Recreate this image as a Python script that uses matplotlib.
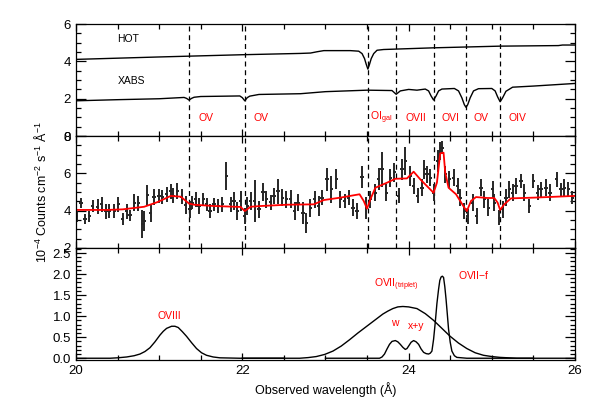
import matplotlib
matplotlib.use("Agg")
from matplotlib import pyplot as plt
from matplotlib.ticker import MultipleLocator, FormatStrFormatter

plt.rcParams['font.family'] = ['Liberation Sans', 'DejaVu Sans']
plt.rcParams['mathtext.fontset'] = 'custom'
plt.rcParams['mathtext.rm'] = 'Liberation Sans'

# верхняя панель: модели поглощения HOT и XABS
hot_x = [20.0, 21.0, 22.0, 22.7, 22.82, 22.9, 22.98, 23.3, 23.4, 23.44, 23.47, 23.49,
         23.51, 23.53, 23.55, 23.58, 23.62, 23.7, 24.3, 25.1, 25.8, 25.85, 26.0]
hot_y = [4.11, 4.24, 4.36, 4.43, 4.45, 4.52, 4.58, 4.58, 4.55, 4.42, 4.15, 3.85,
         3.59, 3.85, 4.15, 4.42, 4.6, 4.64, 4.73, 4.82, 4.85, 4.88, 4.88]

xabs_x = [20.0, 20.5, 21.0, 21.3, 21.33, 21.36, 21.39, 21.42, 21.5, 21.97, 22.0, 22.03,
          22.06, 22.09, 22.2, 22.7, 23.0, 23.5, 23.8, 23.85, 23.9, 24.0, 24.1, 24.2,
          24.24, 24.27, 24.3, 24.33, 24.36, 24.4, 24.55, 24.6, 24.64, 24.67, 24.69,
          24.71, 24.74, 24.78, 24.84, 25.0, 25.04, 25.07, 25.1, 25.13, 25.17, 25.25,
          25.5, 26.0]
xabs_y = [1.89, 1.95, 2.0, 2.07, 2.02, 1.93, 2.02, 2.08, 2.12, 2.15, 2.06, 1.89,
          2.06, 2.14, 2.23, 2.27, 2.38, 2.46, 2.44, 2.24, 2.42, 2.5, 2.46, 2.52,
          2.42, 2.15, 1.93, 2.15, 2.42, 2.52, 2.55, 2.42, 2.05, 1.68, 1.54,
          1.68, 2.05, 2.42, 2.54, 2.55, 2.42, 2.1, 1.84, 2.05, 2.4, 2.62,
          2.68, 2.82]

# положения линий поглощения и подписи
abs_lines = [21.36, 22.03, 23.51, 23.85, 24.30, 24.69, 25.10]
abs_labels = ['OV', 'OV', r'OI$_{\rm gal}$', 'OVII', 'OVI', 'OV', 'OIV']
abs_label_x = [21.47, 22.14, 23.54, 23.96, 24.40, 24.78, 25.20]

# средняя панель: данные с ошибками
wl = [20.01, 20.06, 20.11, 20.16, 20.20, 20.26, 20.31, 20.36, 20.40, 20.46,
      20.51, 20.56, 20.61, 20.65, 20.70, 20.75, 20.80, 20.82, 20.86, 20.90,
      20.94, 21.00, 21.04, 21.09, 21.14, 21.17, 21.22, 21.27, 21.32, 21.37,
      21.40, 21.44, 21.48, 21.53, 21.57, 21.61, 21.66, 21.71, 21.76, 21.81,
      21.86, 21.90, 21.94, 21.98, 22.03, 22.06, 22.10, 22.15, 22.20, 22.25,
      22.29, 22.34, 22.38, 22.43, 22.48, 22.53, 22.58, 22.63, 22.67, 22.73,
      22.77, 22.82, 22.87, 22.92, 22.96, 23.02, 23.07, 23.13, 23.18, 23.23,
      23.28, 23.33, 23.38, 23.44, 23.49, 23.54, 23.60, 23.64, 23.68, 23.73,
      23.78, 23.83, 23.88, 23.92, 23.96, 24.02, 24.06, 24.11, 24.16, 24.19,
      24.22, 24.26, 24.30, 24.35, 24.38, 24.40, 24.44, 24.49, 24.54, 24.59,
      24.62, 24.67, 24.71, 24.77, 24.82, 24.87, 24.91, 24.96, 25.01, 25.03,
      25.09, 25.13, 25.17, 25.21, 25.25, 25.29, 25.35, 25.39, 25.45, 25.50,
      25.55, 25.59, 25.65, 25.70, 25.78, 25.83, 25.87, 25.92, 25.97]
flux = [3.71, 4.43, 3.54, 3.71, 4.25, 4.20, 4.34, 3.98, 3.98, 3.98,
        4.34, 3.54, 3.98, 3.75, 4.43, 4.39, 3.27, 3.45, 4.82, 3.86,
        4.73, 4.79, 4.73, 4.88, 5.05, 4.79, 5.05, 4.75, 4.29, 4.07,
        4.43, 4.61, 4.25, 4.61, 4.34, 3.98, 4.34, 4.25, 4.34, 5.86,
        4.34, 4.52, 3.98, 4.52, 3.71, 4.25, 4.52, 4.52, 4.07, 5.00,
        4.61, 4.46, 4.79, 5.05, 4.70, 4.61, 4.61, 3.98, 4.43, 3.89,
        3.36, 4.16, 4.61, 4.25, 4.70, 5.68, 5.14, 5.68, 4.61, 4.52,
        4.70, 4.16, 3.98, 5.82, 4.16, 4.61, 4.96, 5.71, 6.21, 4.96,
        5.77, 6.05, 4.79, 6.21, 6.66, 5.86, 5.32, 4.79, 5.23, 6.21,
        5.95, 5.77, 4.96, 6.66, 7.20, 7.38, 5.95, 5.68, 5.77, 5.32,
        4.70, 3.98, 3.71, 4.43, 3.71, 5.23, 4.61, 4.16, 5.14, 4.43,
        3.63, 4.07, 4.70, 5.14, 4.96, 5.32, 5.59, 4.96, 4.25, 5.59,
        4.96, 5.14, 5.23, 4.96, 5.68, 5.14, 5.23, 5.14, 4.70]
flux_err = [0.29, 0.27, 0.27, 0.29, 0.31, 0.40, 0.40, 0.40, 0.36, 0.36,
            0.40, 0.31, 0.40, 0.31, 0.45, 0.40, 0.76, 0.54, 0.58, 0.49,
            0.45, 0.36, 0.36, 0.40, 0.40, 0.40, 0.45, 0.40, 0.49, 0.45,
            0.36, 0.40, 0.45, 0.36, 0.36, 0.36, 0.36, 0.36, 0.40, 0.73,
            0.40, 0.49, 0.49, 0.54, 0.45, 0.49, 0.49, 1.15, 0.45, 0.49,
            0.45, 0.40, 0.45, 0.67, 0.45, 0.45, 0.49, 0.49, 0.45, 0.58,
            0.54, 0.49, 0.45, 0.54, 0.40, 0.63, 0.71, 0.54, 0.45, 0.40,
            0.40, 0.45, 0.45, 0.58, 0.58, 0.45, 0.45, 0.58, 0.94, 0.45,
            0.49, 0.50, 0.40, 0.54, 0.76, 0.54, 0.45, 0.40, 0.45, 0.49,
            0.45, 0.45, 0.45, 0.58, 0.49, 0.36, 0.45, 0.45, 0.45, 0.45,
            0.45, 0.45, 0.40, 0.45, 0.45, 0.45, 0.45, 0.45, 0.45, 0.45,
            0.40, 0.45, 0.45, 0.45, 0.45, 0.45, 0.40, 0.45, 0.36, 0.36,
            0.40, 0.40, 0.45, 0.45, 0.40, 0.36, 0.45, 0.40, 0.36]

# модель (красная линия)
model_x = [19.98, 20.38, 20.56, 20.82, 20.98, 21.14, 21.26, 21.36, 21.42, 21.66,
           21.98, 22.03, 22.10, 22.22, 22.54, 22.86, 22.98, 23.18, 23.41, 23.46,
           23.50, 23.54, 23.60, 23.74, 23.84, 23.98, 24.06, 24.14, 24.24, 24.30,
           24.34, 24.38, 24.42, 24.44, 24.48, 24.57, 24.67, 24.70, 24.75, 24.81,
           24.95, 25.03, 25.07, 25.10, 25.15, 25.23, 25.51, 25.99]
model_y = [4.04, 4.04, 4.07, 4.21, 4.46, 4.79, 4.75, 4.38, 4.32, 4.25,
           4.20, 3.98, 4.21, 4.25, 4.32, 4.34, 4.57, 4.70, 4.88, 4.52,
           4.11, 4.61, 5.23, 5.50, 5.71, 5.73, 6.09, 5.68, 5.23, 4.96,
           5.50, 7.07, 7.11, 6.04, 5.23, 4.88, 4.16, 3.98, 4.52, 4.73,
           4.68, 4.68, 4.43, 4.04, 4.34, 4.66, 4.70, 4.79]

# нижняя панель: эмиссионные компоненты
o8_x = [20.0, 20.41, 20.5, 20.61, 20.7, 20.77, 20.83, 20.89, 20.95, 21.01, 21.05,
        21.09, 21.15, 21.19, 21.23, 21.28, 21.33, 21.39, 21.45, 21.51, 21.57,
        21.65, 21.73, 21.97, 22.5]
o8_y = [0.0, 0.0, 0.01, 0.03, 0.06, 0.10, 0.16, 0.25, 0.39, 0.55, 0.64,
        0.71, 0.76, 0.76, 0.73, 0.63, 0.52, 0.37, 0.23, 0.13, 0.07,
        0.03, 0.01, 0.0, 0.0]

o7_broad_x = [22.0, 22.69, 22.79, 22.89, 22.99, 23.09, 23.19, 23.29, 23.39, 23.49,
              23.59, 23.69, 23.75, 23.81, 23.87, 23.93, 24.0, 24.10, 24.2, 24.30,
              24.4, 24.50, 24.6, 24.70, 24.8, 24.90, 25.0, 25.10, 25.30, 26.0]
o7_broad_y = [0.0, 0.0, 0.015, 0.04, 0.09, 0.17, 0.29, 0.44, 0.6, 0.75,
              0.9, 1.05, 1.12, 1.18, 1.22, 1.23, 1.22, 1.18, 1.06, 0.90,
              0.71, 0.52, 0.36, 0.23, 0.13, 0.07, 0.04, 0.02, 0.0, 0.0]

o7_narrow_x = [23.0, 23.65, 23.68, 23.71, 23.74, 23.77, 23.80, 23.84, 23.87, 23.90,
               23.93, 23.96, 23.98, 24.00, 24.03, 24.06, 24.09, 24.12, 24.15, 24.18,
               24.21, 24.24, 24.26, 24.28, 24.30, 24.32, 24.34, 24.36, 24.375, 24.39,
               24.405, 24.42, 24.435, 24.45, 24.465, 24.48, 24.50, 24.52, 24.55,
               24.58, 24.70, 25.5]
o7_narrow_y = [0.0, 0.0, 0.03, 0.10, 0.22, 0.33, 0.40, 0.42, 0.39, 0.33,
               0.26, 0.21, 0.23, 0.29, 0.38, 0.42, 0.39, 0.33, 0.22, 0.14,
               0.11, 0.10, 0.12, 0.17, 0.45, 0.85, 1.30, 1.64, 1.85, 1.93,
               1.95, 1.92, 1.70, 1.40, 1.05, 0.69, 0.38, 0.17, 0.06,
               0.02, 0.0, 0.0]

fig = plt.figure(figsize=(5.98, 4.09), dpi=100)
axs = fig.subplots(3, 1, sharex=True)
fig.subplots_adjust(left=0.127, right=0.9615, top=0.941, bottom=0.120, hspace=0)

for i, ax in enumerate(axs):
    if i < 2:  # в нижней панели пунктира нет
        for v in abs_lines:
            ax.axvline(v, color='k', ls=(0, (4, 3)), lw=0.9)
    ax.tick_params(which='both', direction='in', top=True, right=True, labelsize=9.5)
    ax.tick_params(which='major', length=7, width=0.9)
    ax.tick_params(which='minor', length=3.5, width=0.9)
    ax.tick_params(axis='x', which='major', length=5)
    ax.xaxis.set_major_locator(MultipleLocator(2))
    ax.xaxis.set_minor_locator(MultipleLocator(0.5))
    for s in ax.spines.values():
        s.set_linewidth(0.9)

# верхняя панель
ax = axs[0]
ax.plot(hot_x, hot_y, color='k', lw=1.0)
ax.plot(xabs_x, xabs_y, color='k', lw=1.0)
ax.set_ylim(0, 6)
ax.yaxis.set_major_locator(MultipleLocator(2))
ax.yaxis.set_minor_locator(MultipleLocator(0.5))
ax.text(20.5, 5.2, 'HOT', fontsize=7.5, va='center')
ax.text(20.5, 2.95, 'XABS', fontsize=7.5, va='center')
for lx, lab in zip(abs_label_x, abs_labels):
    ax.text(lx, 0.98, lab, color='red', fontsize=7.5, va='center')

# средняя панель
ax = axs[1]
ax.errorbar(wl, flux, yerr=flux_err, xerr=0.02, fmt='none',
            ecolor='#262626', elinewidth=1.4, capsize=0)
ax.plot(model_x, model_y, color='red', lw=1.3)
ax.set_ylim(2, 8)
ax.yaxis.set_major_locator(MultipleLocator(2))
ax.yaxis.set_minor_locator(MultipleLocator(0.5))

# нижняя панель
ax = axs[2]
ax.plot(o8_x, o8_y, color='k', lw=1.0)
ax.plot(o7_broad_x, o7_broad_y, color='k', lw=1.0)
ax.plot(o7_narrow_x, o7_narrow_y, color='k', lw=1.0)
ax.set_ylim(-0.04, 2.62)
ax.yaxis.set_major_locator(MultipleLocator(0.5))
ax.yaxis.set_minor_locator(MultipleLocator(0.1))
ax.yaxis.set_major_formatter(FormatStrFormatter('%.1f'))
ax.text(21.12, 1.0, 'OVIII', color='red', fontsize=7.5, ha='center', va='center')
ax.text(23.58, 1.75, r'OVII$_{\rm (triplet)}$', color='red', fontsize=7.5, va='center')
ax.text(24.59, 1.98, 'OVII$-$f', color='red', fontsize=7.5, va='center')
ax.text(23.83, 0.83, 'w', color='red', fontsize=7.5, ha='center', va='center')
ax.text(23.99, 0.77, 'x+y', color='red', fontsize=7.5, va='center')
ax.set_xlim(20, 26)
ax.set_xlabel('Observed wavelength (Å)', fontsize=9, labelpad=4)

fig.text(0.068, 0.53, r'10$^{-4}$ Counts cm$^{-2}$ s$^{-1}$ Å$^{-1}$',
         rotation=90, ha='center', va='center', fontsize=9)

fig.savefig('out.png', dpi=100)
